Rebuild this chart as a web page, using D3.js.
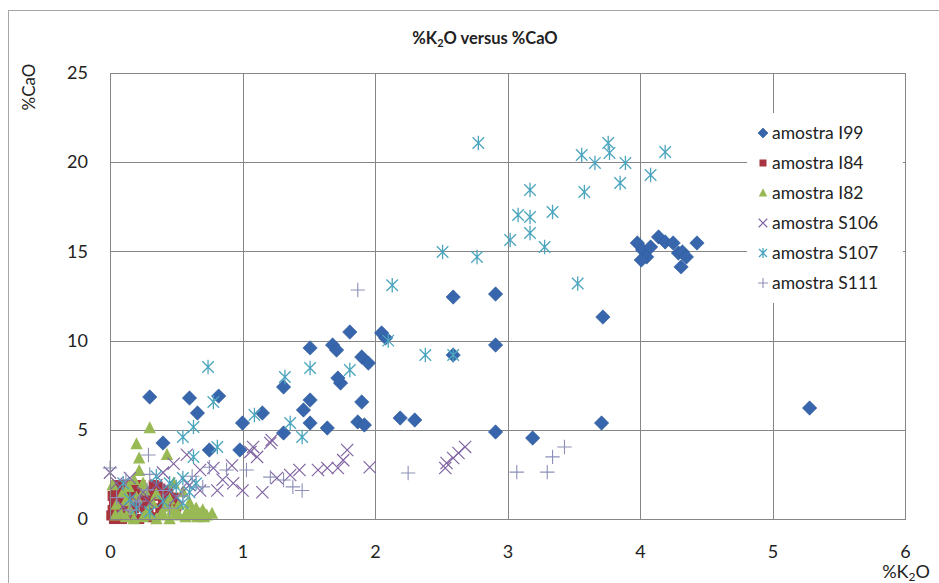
<!DOCTYPE html>
<html><head><meta charset="utf-8">
<script src="https://cdn.jsdelivr.net/npm/d3@7"></script>
<style>body{margin:0;background:#fff}svg{display:block}text{font-family:Lato,"Open Sans","Liberation Sans",sans-serif}</style>
</head><body><svg id="c" width="939" height="583"></svg>
<script>
// ---- data ----
const seriesNames = ["amostra I99","amostra I84","amostra I82","amostra S106","amostra S107","amostra S111"];
const xTicks = [0,1,2,3,4,5,6];
const yTicks = [0,5,10,15,20,25];
const I99 = [[0.30,6.84],[0.60,6.78],[0.66,5.94],[0.82,6.89],[0.75,3.87],[0.40,4.26],[0.98,3.87],[1.00,5.38],[1.15,5.94],[1.31,7.40],[1.31,4.82],[1.51,9.59],[1.68,9.75],[1.71,9.47],[1.81,10.48],[1.90,9.08],[1.95,8.74],[1.74,7.62],[1.72,7.90],[1.90,6.56],[1.51,6.67],[1.46,6.11],[1.51,5.38],[1.64,5.10],[1.87,5.44],[1.92,5.27],[2.05,10.43],[2.08,10.15],[2.19,5.66],[2.30,5.55],[2.59,12.44],[2.91,12.61],[2.59,9.19],[2.91,9.75],[2.91,4.88],[3.19,4.54],[3.72,11.32],[3.71,5.38],[5.28,6.22],[3.98,15.47],[4.02,15.08],[4.08,15.25],[4.14,15.81],[4.19,15.53],[4.25,15.47],[4.05,14.69],[4.01,14.52],[4.29,14.91],[4.32,14.97],[4.31,14.13],[4.43,15.47],[4.35,14.69]];
const I84 = [[0.02,0.5],[0.03,1.0],[0.04,1.5],[0.05,0.8],[0.06,1.2],[0.07,0.3],[0.08,1.8],[0.09,0.6],[0.10,1.4],[0.11,1.0],[0.12,0.1],[0.13,1.7],[0.14,0.8],[0.15,1.2],[0.16,0.2],[0.17,1.9],[0.18,0.6],[0.19,1.3],[0.20,0.9],[0.21,1.6],[0.22,0.0],[0.24,1.1],[0.26,0.7],[0.28,1.5],[0.30,1.0],[0.32,0.1],[0.34,1.3],[0.36,1.8],[0.38,1.7],[0.40,1.1],[0.42,1.6],[0.44,1.4],[0.46,0.9],[0.48,1.2],[0.50,0.7],[0.01,0.2],[0.27,0.2],[0.03,0.0],[0.06,0.1],[0.09,0.0],[0.02,1.3],[0.05,1.9],[0.11,1.9],[0.14,0.3],[0.33,1.9],[0.38,0.6],[0.29,0.5],[0.23,1.9]];
const I82 = [[0.30,5.1],[0.20,4.2],[0.22,3.4],[0.43,3.6],[0.22,2.7],[0.18,2.2],[0.25,2.0],[0.10,1.5],[0.05,0.8],[0.08,0.3],[0.12,1.0],[0.15,0.5],[0.20,1.2],[0.28,0.4],[0.32,0.9],[0.35,1.4],[0.38,0.2],[0.42,0.7],[0.45,1.1],[0.50,0.3],[0.52,0.8],[0.55,1.5],[0.58,0.4],[0.60,0.9],[0.62,0.2],[0.65,0.6],[0.68,0.3],[0.70,0.5],[0.73,0.2],[0.77,0.3],[0.02,1.9],[0.14,1.8],[0.26,1.6],[0.48,2.0],[0.40,0.3],[0.04,0.2],[0.18,0.0],[0.57,0.1],[0.45,0.0],[0.52,0.2],[0.62,0.5],[0.66,0.1],[0.71,0.1],[0.35,0.0],[0.25,0.1],[0.12,0.1],[0.30,0.2],[0.47,0.5]];
const S106 = [[0.48,3.1],[0.58,3.6],[0.68,2.75],[0.78,2.86],[0.85,2.2],[0.93,2.0],[1.00,1.6],[1.06,3.76],[1.11,3.48],[1.21,4.26],[1.26,2.3],[0.81,1.6],[0.68,1.6],[0.58,2.0],[1.79,3.87],[1.76,3.3],[1.96,2.9],[2.54,3.14],[2.59,3.42],[2.63,3.70],[2.68,4.04],[2.53,2.86],[1.43,2.75],[1.57,2.75],[1.64,2.86],[1.72,2.86],[1.36,2.47],[1.08,4.04],[1.22,4.43],[0.00,2.6],[0.25,1.5],[0.35,1.9],[0.15,2.3],[0.40,2.6],[0.30,0.9],[0.05,2.0],[0.50,1.2],[0.60,1.9],[1.15,1.5],[0.92,3.0],[0.20,1.0],[0.45,1.6],[0.10,0.7]];
const S107 = [[2.78,21.08],[3.17,18.44],[3.08,17.04],[3.17,16.93],[3.34,17.21],[3.17,16.03],[3.02,15.64],[3.28,15.25],[2.51,14.97],[2.77,14.69],[3.76,21.08],[3.56,20.40],[3.66,19.96],[3.77,20.52],[3.89,19.96],[4.19,20.57],[4.08,19.28],[3.85,18.83],[3.58,18.33],[3.53,13.2],[2.13,13.1],[2.10,10.0],[2.38,9.19],[2.59,9.19],[0.74,8.52],[1.32,7.96],[1.51,8.46],[1.81,8.35],[0.78,6.56],[1.09,5.83],[1.36,5.38],[1.45,4.60],[0.63,5.16],[0.55,4.60],[0.63,3.48],[0.81,4.04],[0.50,1.8],[0.55,2.3],[0.60,1.5],[0.45,2.0],[0.20,0.6],[0.30,0.4],[0.15,1.1],[0.40,1.0],[0.10,2.0],[0.35,2.4],[0.55,0.9],[0.65,2.0]];
const S111 = [[1.87,12.84],[2.25,2.58],[3.07,2.63],[3.30,2.63],[3.34,3.48],[3.43,4.04],[0.00,2.86],[0.29,3.59],[0.88,2.75],[1.03,2.75],[1.21,2.35],[1.31,2.19],[0.28,1.63],[0.15,0.5],[1.38,1.8],[1.45,1.6],[0.05,1.2],[0.12,2.2],[0.22,1.0],[0.30,2.5],[0.40,1.6],[0.45,0.6],[0.55,1.3],[0.62,2.4],[0.70,1.8],[0.75,2.9]];

const seriesData = [I99,I84,I82,S106,S107,S111];
const colors = ["#3866AC","#A8343F","#98B954","#8064A2","#4BA5BE","#8C90B8"];

// ---- layout ----
const svg = d3.select("#c");
const L=110, R=905, T=73, B=519;
const x = d3.scaleLinear().domain([0,6]).range([L,R]);
const y = d3.scaleLinear().domain([0,25]).range([B,T]);

svg.append("rect").attr("x",8.5).attr("y",10.5).attr("width",1000).attr("height",1000)
  .attr("fill","#fff").attr("stroke","#a6a6a6");

// grid
const g = svg.append("g");
g.selectAll("line.vx").data(xTicks).join("line")
  .attr("x1",d=>Math.round(x(d))+0.5).attr("x2",d=>Math.round(x(d))+0.5).attr("y1",T).attr("y2",B)
  .attr("stroke","#868686");
g.selectAll("line.hy").data(yTicks).join("line")
  .attr("x1",L).attr("x2",R).attr("y1",d=>Math.round(y(d))+0.5).attr("y2",d=>Math.round(y(d))+0.5)
  .attr("stroke","#868686");

// tick labels via axes
const xa = svg.append("g").attr("transform",`translate(0,${B})`)
  .call(d3.axisBottom(x).tickValues(xTicks).tickSize(0).tickPadding(26).tickFormat(d3.format("d")));
xa.select(".domain").remove();
xa.selectAll("text").attr("font-size",18).attr("fill","#222").attr("font-family","Lato");
const ya = svg.append("g").attr("transform",`translate(${L},0)`)
  .call(d3.axisLeft(y).tickValues(yTicks).tickSize(0).tickPadding(22).tickFormat(d3.format("d")));
ya.select(".domain").remove();
ya.selectAll("text").attr("font-size",18).attr("fill","#222").attr("font-family","Lato");

// marker drawers
function drawMarker(sel, k, s){
  const c = colors[k];
  if(k===0){ sel.append("path").attr("d",`M0,${-s}L${s},0L0,${s}L${-s},0Z`).attr("fill",c).attr("stroke","#2f5a9a").attr("stroke-width",0.6); }
  else if(k===1){ const h=s*0.7; sel.append("rect").attr("x",-h).attr("y",-h).attr("width",2*h).attr("height",2*h).attr("fill",c); }
  else if(k===2){ const h=s*0.95; sel.append("path").attr("d",`M0,${-h}L${h*0.9},${h*0.75}L${-h*0.9},${h*0.75}Z`).attr("fill",c); }
  else if(k===3){ const h=s*0.85; sel.append("path").attr("d",`M${-h},${-h}L${h},${h}M${h},${-h}L${-h},${h}`).attr("stroke",c).attr("stroke-width",1.2).attr("fill","none"); }
  else if(k===4){ const h=s*0.8; sel.append("path").attr("d",`M${-h},${-h}L${h},${h}M${h},${-h}L${-h},${h}M0,${-s}L0,${s}`).attr("stroke",c).attr("stroke-width",1.3).attr("fill","none"); }
  else { sel.append("path").attr("d",`M${-s},0L${s},0M0,${-s}L0,${s}`).attr("stroke",c).attr("stroke-width",1.1).attr("fill","none"); }
}

seriesData.forEach((data,k)=>{
  const gs = svg.append("g");
  gs.selectAll("g").data(data).join("g")
    .attr("transform",d=>`translate(${x(d[0])},${y(d[1])})`)
    .each(function(){ drawMarker(d3.select(this),k,7.2); });
});

// plot frame
svg.append("rect").attr("x",L+0.5).attr("y",T+0.5).attr("width",R-L).attr("height",B-T)
  .attr("fill","none").attr("stroke","#868686");

// legend
const lg = svg.append("g");
lg.append("rect").attr("x",747).attr("y",113).attr("width",156).attr("height",190).attr("fill","#fff");
seriesNames.forEach((n,i)=>{
  const yy = 133 + i*30;
  const m = lg.append("g").attr("transform",`translate(763,${yy})`);
  drawMarker(m,i,5);
  lg.append("text").attr("x",772).attr("y",yy+6).attr("font-size",17.5).attr("fill","#222").text(n);
});

// title
const t = svg.append("text").attr("x",485).attr("y",44).attr("text-anchor","middle")
  .attr("font-size",16.5).attr("font-weight","bold").attr("fill","#222");
t.append("tspan").text("%K");
t.append("tspan").attr("font-size",11).attr("dy",3).text("2");
t.append("tspan").attr("dy",-3).text("O versus %CaO");

// axis titles
const xt = svg.append("text").attr("x",906).attr("y",578).attr("text-anchor","middle").attr("font-size",18).attr("fill","#222");
xt.append("tspan").text("%K"); xt.append("tspan").attr("font-size",12).attr("dy",3).text("2"); xt.append("tspan").attr("dy",-3).text("O");
svg.append("text").attr("transform","translate(35,87) rotate(-90)").attr("text-anchor","middle")
  .attr("font-size",17).attr("fill","#222").text("%CaO");
</script></body></html>
